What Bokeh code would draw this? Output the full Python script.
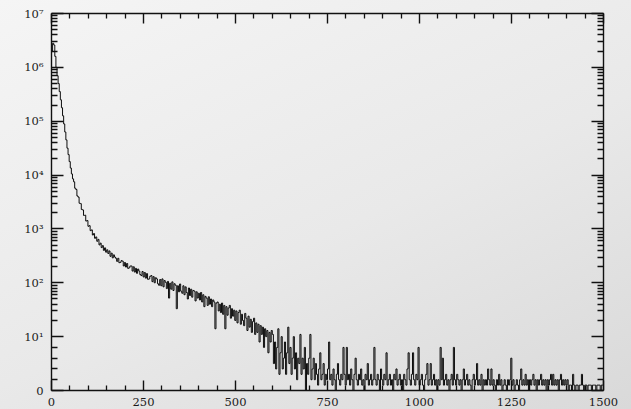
import math
from bokeh.plotting import figure
from bokeh.models import (FixedTicker, LinearAxis, ColumnDataSource, CustomJSTransform,
                          Range1d, CustomLabelingPolicy)
from bokeh.transform import transform
from bokeh.embed import file_html
from bokeh.resources import INLINE

# ---- data: histogram, 3-unit bins from 0 to 1500 (50 bins per list) ----
bin_width = 3
counts_0_150 = [2000000, 2800000, 2600000, 1600000, 1000000, 700000, 500000, 355000, 250000, 178000,
                126000, 89000, 63000, 45000, 31600, 24000, 17800, 13500, 10500, 8500,
                7500, 5700, 5400, 4100, 3900, 3000, 2950, 2300, 2250, 1780,
                1800, 1400, 1430, 1120, 1150, 930, 960, 770, 820, 670,
                710, 590, 640, 505, 545, 450, 490, 400, 445, 370]
counts_150_300 = [410, 350, 390, 310, 355, 290, 330, 300, 285, 250,
                  285, 236, 240, 258, 252, 205, 238, 196, 228, 185,
                  190, 205, 205, 165, 198, 158, 185, 150, 180, 165,
                  142, 136, 162, 128, 155, 122, 148, 116, 118, 132,
                  136, 105, 130, 100, 124, 118, 96, 90, 115, 88]
counts_300_450 = [118, 84, 110, 102, 78, 106, 52, 98, 76, 104,
                  72, 96, 90, 33, 88, 68, 95, 70, 64, 88,
                  60, 84, 66, 50, 80, 58, 76, 54, 72, 70,
                  46, 68, 52, 64, 48, 66, 44, 60, 36, 56,
                  52, 38, 55, 40, 50, 36, 48, 44, 14, 42]
counts_450_600 = [44, 30, 40, 28, 42, 26, 38, 14, 36, 25,
                  34, 38, 22, 33, 24, 31, 20, 30, 18, 28,
                  31, 17, 26, 20, 16, 27, 22, 13, 24, 15,
                  21, 12, 19, 22, 11, 18, 12, 17, 9, 16,
                  11, 15, 8, 14, 10, 13, 7, 12, 9, 13]
counts_600_750 = [11, 5, 9, 4, 8, 14, 3, 7, 10, 4,
                  6, 9, 3, 7, 15, 5, 8, 3, 6, 10,
                  4, 7, 2, 6, 5, 11, 3, 6, 4, 8,
                  0, 5, 3, 6, 11, 2, 4, 6, 2, 5,
                  3, 1, 4, 7, 2, 3, 5, 1, 3, 2]
counts_750_900 = [4, 9, 2, 3, 1, 4, 2, 0, 3, 5,
                  2, 1, 3, 2, 8, 3, 1, 8, 2, 3,
                  1, 4, 2, 0, 3, 6, 2, 1, 3, 2,
                  4, 1, 2, 0, 3, 2, 5, 1, 2, 3,
                  1, 2, 8, 2, 1, 3, 2, 0, 4, 2]
counts_900_1050 = [1, 3, 2, 7, 1, 2, 3, 1, 2, 0,
                   3, 2, 4, 1, 2, 3, 1, 2, 0, 3,
                   2, 1, 4, 7, 2, 1, 3, 7, 2, 1,
                   3, 2, 8, 1, 2, 3, 1, 0, 2, 3,
                   5, 1, 2, 5, 1, 2, 3, 1, 2, 0]
counts_1050_1200 = [2, 1, 8, 2, 6, 1, 2, 3, 1, 2,
                    0, 2, 3, 1, 8, 2, 1, 3, 2, 1,
                    2, 0, 2, 4, 1, 2, 3, 1, 2, 1,
                    0, 2, 3, 1, 2, 5, 1, 2, 1, 3,
                    0, 2, 1, 2, 1, 4, 2, 1, 4, 1]
counts_1200_1350 = [2, 1, 0, 2, 1, 3, 1, 2, 0, 1,
                    2, 1, 0, 2, 1, 2, 6, 1, 2, 0,
                    1, 2, 1, 0, 2, 4, 1, 2, 1, 3,
                    1, 2, 0, 2, 1, 2, 3, 1, 2, 0,
                    2, 1, 2, 3, 1, 2, 1, 2, 0, 2]
counts_1350_1500 = [1, 2, 3, 1, 3, 1, 2, 1, 2, 0,
                    2, 3, 1, 2, 1, 2, 1, 2, 0, 1,
                    1, 0, 3, 1, 0, 1, 1, 0, 1, 1,
                    3, 1, 0, 1, 1, 0, 1, 1, 1, 0,
                    1, 1, 1, 0, 1, 1, 1, 0, 1, 1]

sections = [counts_0_150, counts_150_300, counts_300_450, counts_450_600, counts_600_750,
            counts_750_900, counts_900_1050, counts_1050_1200, counts_1200_1350, counts_1350_1500]
for s in sections:
    assert len(s) == 50, len(s)
counts = [c for s in sections for c in s]

x_ticks = [0, 250, 500, 750, 1000, 1250, 1500]
x_minor = [v for v in range(0, 1501, 50) if v % 250 != 0]
y_decades = [0, 1, 2, 3, 4, 5, 6, 7]
y_labels = {0: "0", 1: "10\u00b9", 2: "10\u00b2", 3: "10\u00b3", 4: "10\u2074",
            5: "10\u2075", 6: "10\u2076", 7: "10\u2077"}
y_minor = [0.2, 0.4, 0.6, 0.8] + [d + math.log10(k) for d in range(1, 7) for k in range(2, 10)]

edges = [i * bin_width for i in range(len(counts))] + [len(counts) * bin_width]
src = ColumnDataSource(dict(x=edges, count=counts + [counts[-1]]))

# log scale above 10, linear between 0 and 10
logzero = CustomJSTransform(
    func="return x >= 10 ? Math.log10(x) : x / 10;",
    v_func="""
const out = new Float64Array(xs.length);
for (let i = 0; i < xs.length; i++) {
  const x = xs[i];
  out[i] = x >= 10 ? Math.log10(x) : x / 10;
}
return out;
""")

p = figure(width=631, height=409, output_backend="svg", toolbar_location=None,
           x_range=Range1d(0, 1500), y_range=Range1d(0, 7),
           min_border_left=51, min_border_right=28, min_border_top=13, min_border_bottom=19)
p.background_fill_color = None
p.border_fill_color = None
p.outline_line_color = None
p.xgrid.visible = False
p.ygrid.visible = False
p.styles = {"background": "linear-gradient(155deg, #f5f5f5 0%, #e9e9e9 55%, #d9d9d9 100%)"}

p.step(x="x", y=transform("count", logzero), source=src, mode="after",
       line_color="black", line_width=1, line_alpha=0.95)

xt = FixedTicker(ticks=x_ticks, minor_ticks=x_minor)
yt = FixedTicker(ticks=y_decades, minor_ticks=y_minor)

bottom = p.below[0]
left = p.left[0]
bottom.ticker = xt
left.ticker = yt
left.major_label_overrides = y_labels

no_labels = CustomLabelingPolicy(code="""
for (const i of indices) { indices.unset(i) }
return indices
""")
top = LinearAxis(ticker=xt, major_label_policy=no_labels, major_label_standoff=0)
right = LinearAxis(ticker=yt, major_label_policy=no_labels, major_label_standoff=0)
p.add_layout(top, "above")
p.add_layout(right, "right")

for ax in [bottom, top, left, right]:
    ax.axis_line_color = "#111111"
    ax.axis_line_width = 1.4
    ax.major_tick_line_color = "#111111"
    ax.minor_tick_line_color = "#111111"
    ax.major_tick_line_width = 1.4
    ax.minor_tick_line_width = 1.3
    ax.major_tick_out = 0
    ax.minor_tick_out = 0
    ax.major_label_text_font = "DejaVu Serif"
    ax.major_label_text_font_size = "11.5px"
    ax.major_label_text_color = "#1a1a1a"

for ax in [bottom, top]:
    ax.major_tick_in = 10
    ax.minor_tick_in = 5
for ax in [left, right]:
    ax.major_tick_in = 12
    ax.minor_tick_in = 6

bottom.major_label_standoff = 7
left.major_label_standoff = 8

open("out.html", "w").write(file_html(p, INLINE))
